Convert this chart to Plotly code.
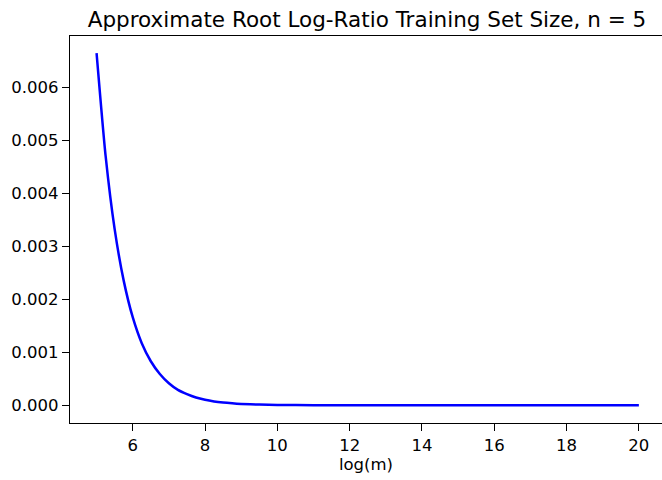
import plotly.graph_objects as go

# Data
log_m = [5.0, 5.25, 5.5, 5.75, 6.0, 6.25, 6.5, 6.75, 7.0, 7.25, 7.5, 7.75,
         8.0, 8.25, 8.5, 8.75, 9.0, 9.5, 10.0, 11.0, 12.0, 13.0, 14.0, 16.0, 18.0, 20.0]
size_value = [0.00664, 0.00470, 0.00332, 0.00235, 0.00166, 0.00117, 0.00083, 0.00059,
              0.000415, 0.00029, 0.00021, 0.000147, 0.000104, 0.000073, 0.000052,
              0.000037, 0.000026, 0.000013, 0.0000065, 0.0000016, 0.0000004,
              0.0000001, 0.00000003, 0.0, 0.0, 0.0]
x_ticks = [6, 8, 10, 12, 14, 16, 18, 20]
y_ticks = [0.000, 0.001, 0.002, 0.003, 0.004, 0.005, 0.006]

fig = go.Figure()
fig.add_trace(go.Scatter(x=log_m, y=size_value, mode="lines",
                         line=dict(color="#0000ff", width=2.5, shape="spline", smoothing=0.6)))

axis_common = dict(showline=True, linecolor="black", linewidth=1.3,
                   ticks="outside", ticklen=7, tickwidth=1.3, tickcolor="black",
                   showgrid=False, zeroline=False, automargin=False,
                   tickfont=dict(family="DejaVu Sans", size=16.5, color="black"))

fig.update_layout(
    width=662, height=480,
    margin=dict(l=70, r=0, t=36, b=57),
    paper_bgcolor="white", plot_bgcolor="white",
    showlegend=False,
    title=dict(text="Approximate Root Log-Ratio Training Set Size, n = 5",
               x=367 / 662, xanchor="center",
               y=1 - 19 / 480, yanchor="middle",
               font=dict(family="DejaVu Sans", size=21.5, color="black")),
    xaxis=dict(range=[4.265, 20.64], tickvals=x_ticks, ticktext=[str(v) for v in x_ticks],
               mirror=True,
               title=dict(text="log(m)", font=dict(family="DejaVu Sans", size=16.5, color="black"),
                          standoff=4),
               **axis_common),
    yaxis=dict(range=[-0.000334, 0.006962], tickvals=y_ticks,
               ticktext=[f"{v:.3f}" for v in y_ticks],
               mirror=False,
               **axis_common),
)

fig.write_html("out.html", config={"displayModeBar": False},
               post_script="document.body.style.margin='0';")
